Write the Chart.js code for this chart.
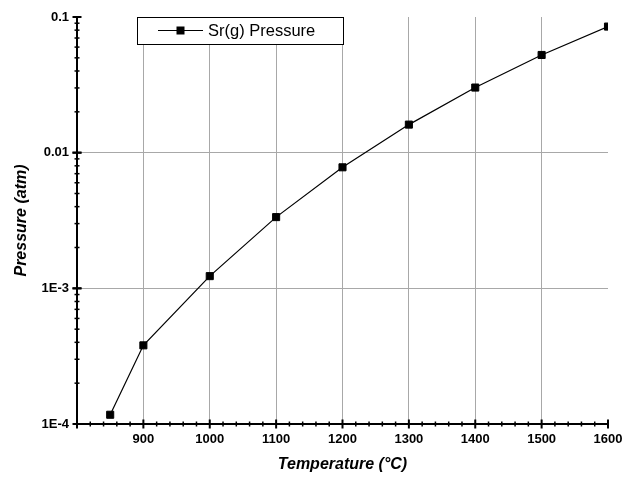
<!DOCTYPE html>
<html>
<head>
<meta charset="utf-8">
<script src="https://cdn.jsdelivr.net/npm/chart.js@4"></script>
<style>
  body { margin: 0; background: #fff; }
</style>
</head>
<body>
<canvas id="grafico" width="623" height="477"></canvas>
<script>
// data
const temperaturas = [850, 900, 1000, 1100, 1200, 1300, 1400, 1500, 1600];
const presiones = [1.17e-4, 3.8e-4, 1.23e-3, 3.35e-3, 7.8e-3, 0.0161, 0.0302, 0.0525, 0.085];
const ticksY = [1e-4, 1e-3, 1e-2, 1e-1];
const etiquetasY = ['1E-4', '1E-3', '0.01', '0.1'];
const nombreSerie = 'Sr(g) Pressure';

const fuente = "Arial, 'Liberation Sans', sans-serif";

// ticks that cross the axis, major and minor
const marcasEje = {
  id: 'marcasEje',
  afterDraw(chart) {
    const ctx = chart.ctx;
    const x = chart.scales.x;
    const y = chart.scales.y;
    const area = chart.chartArea;
    ctx.save();
    ctx.strokeStyle = '#000';
    // x axis
    for (let v = 800; v <= 1600; v += 20) {
      const px = x.getPixelForValue(v);
      const mayor = v % 100 === 0;
      const l = mayor ? 4.5 : 2.5;
      ctx.lineWidth = mayor ? 2 : 1.5;
      ctx.beginPath();
      ctx.moveTo(px, area.bottom - l);
      ctx.lineTo(px, area.bottom + l);
      ctx.stroke();
    }
    // y axis
    for (let d = -4; d < -1; d++) {
      for (let m = 1; m <= 10; m++) {
        const v = m * Math.pow(10, d);
        const py = y.getPixelForValue(v);
        const mayor = m === 1 || m === 10;
        const l = mayor ? 4.5 : 2.5;
        ctx.lineWidth = mayor ? 2 : 1.5;
        ctx.beginPath();
        ctx.moveTo(area.left - l, py);
        ctx.lineTo(area.left + l, py);
        ctx.stroke();
      }
    }
    ctx.restore();
  }
};

// boxed legend inside the plot
const leyenda = {
  id: 'leyenda',
  afterDraw(chart) {
    const ctx = chart.ctx;
    const area = chart.chartArea;
    const bx = area.left + 60, by = area.top, bw = 206, bh = 27;
    ctx.save();
    ctx.fillStyle = '#fff';
    ctx.fillRect(bx, by, bw, bh);
    ctx.strokeStyle = '#000';
    ctx.lineWidth = 1;
    ctx.strokeRect(bx + 0.5, by + 0.5, bw, bh);
    const cy = by + bh / 2;
    ctx.lineWidth = 1.2;
    ctx.beginPath();
    ctx.moveTo(bx + 21, cy);
    ctx.lineTo(bx + 66, cy);
    ctx.stroke();
    ctx.fillStyle = '#000';
    ctx.fillRect(bx + 39.5, cy - 4, 8, 8);
    ctx.font = '16.5px ' + fuente;
    ctx.textBaseline = 'middle';
    ctx.fillText(nombreSerie, bx + 71, cy + 1);
    ctx.restore();
  }
};

const rejilla = {
  borderDash: [1, 1],
  lineWidth: 1,
  drawTicks: false
};

new Chart(document.getElementById('grafico'), {
  type: 'line',
  data: {
    datasets: [{
      label: nombreSerie,
      data: temperaturas.map((t, i) => ({ x: t, y: presiones[i] })),
      borderColor: '#000',
      backgroundColor: '#000',
      borderWidth: 1.2,
      pointStyle: 'rect',
      pointRadius: 5,
      pointBorderWidth: 1,
      tension: 0
    }]
  },
  plugins: [marcasEje, leyenda],
  options: {
    responsive: false,
    animation: false,
    layout: { padding: { top: 17, right: 0, left: 0, bottom: 0 } },
    plugins: {
      legend: { display: false },
      tooltip: { enabled: false }
    },
    scales: {
      x: {
        type: 'linear',
        min: 800,
        max: 1600,
        afterFit(s) { s.height = 53; s.paddingRight = 15; },
        ticks: {
          stepSize: 100,
          padding: 8,
          maxRotation: 0,
          autoSkip: false,
          color: '#000',
          font: { family: fuente, size: 13, weight: 'bold' },
          callback: v => v === 800 ? '' : String(v)
        },
        grid: Object.assign({}, rejilla, {
          color: c => (c.tick && (c.tick.value === 800 || c.tick.value === 1600)) ? 'rgba(0,0,0,0)' : '#a8a8a8'
        }),
        border: { color: '#000', width: 2 },
        title: {
          display: true,
          text: 'Temperature (°C)',
          color: '#000',
          font: { family: fuente, size: 16, weight: 'bold', style: 'italic' },
          padding: { top: 0, bottom: 3 }
        }
      },
      y: {
        type: 'logarithmic',
        min: 1e-4,
        max: 0.1,
        afterFit(s) { s.width = 77; },
        afterBuildTicks(s) { s.ticks = ticksY.map(v => ({ value: v, major: true })); },
        ticks: {
          padding: 8,
          color: '#000',
          font: { family: fuente, size: 13, weight: 'bold' },
          callback: v => etiquetasY[ticksY.findIndex(t => Math.abs(t - v) / t < 1e-6)]
        },
        grid: Object.assign({}, rejilla, {
          color: c => (c.tick && (c.tick.value <= 1e-4 * 1.01 || c.tick.value >= 0.099)) ? 'rgba(0,0,0,0)' : '#a8a8a8'
        }),
        border: { color: '#000', width: 2 },
        title: {
          display: true,
          text: 'Pressure (atm)',
          color: '#000',
          font: { family: fuente, size: 16, weight: 'bold', style: 'italic' },
          padding: { top: 12, bottom: 0 }
        }
      }
    }
  }
});
</script>
</body>
</html>
